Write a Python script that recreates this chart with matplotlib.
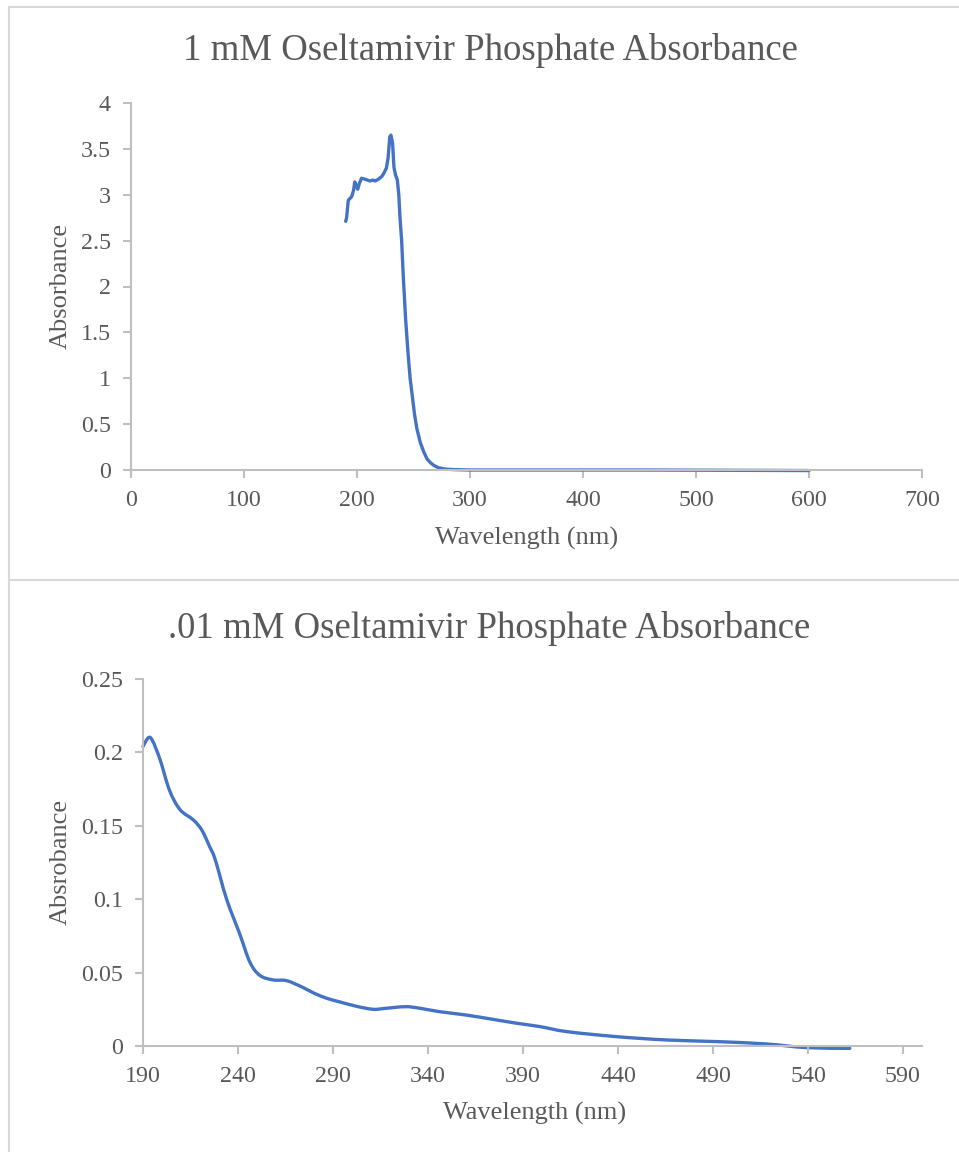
import matplotlib
matplotlib.use("Agg")
import matplotlib.pyplot as plt
import numpy as np
from matplotlib.lines import Line2D
from matplotlib.path import Path
from matplotlib.patches import PathPatch

# ---- data: 1 mM ----
wl_1mM = [190, 190.8, 192.3, 195.3, 197, 198, 199.5, 200.6, 202, 204, 207, 211.5, 214, 216, 219,
          222, 224, 226, 227.5, 229, 230, 231.5, 232.7, 234, 235.7, 237, 238, 239.5, 241, 243,
          245, 247, 249, 251, 253, 256, 259, 262, 265, 268, 272, 278, 285, 300, 350, 400, 450,
          500, 550, 600]
abs_1mM = [2.71, 2.75, 2.94, 2.98, 3.05, 3.14, 3.10, 3.06, 3.12, 3.18, 3.17, 3.15, 3.16, 3.15, 3.17,
           3.20, 3.24, 3.29, 3.40, 3.63, 3.65, 3.56, 3.30, 3.22, 3.16, 3.0, 2.76, 2.50, 2.1, 1.65,
           1.3, 1.0, 0.8, 0.6, 0.45, 0.30, 0.20, 0.12, 0.08, 0.05, 0.025, 0.01, 0.005, 0.0, 0.0,
           0.0, 0.0, -0.002, -0.004, -0.006]

# ---- data: 0.01 mM ----
wl_001 = [190, 192.8, 195, 199, 204, 209.5, 216.5, 221, 225, 228, 234, 241, 246.3, 251.6, 258.6,
          265.6, 274, 280, 286.7, 293.7, 302.5, 311, 316.5, 322, 328.8, 335.8, 346, 360, 374,
          386.7, 399, 413, 439, 465.6, 492, 518, 539, 562]
abs_001 = [0.204, 0.210, 0.208, 0.195, 0.174, 0.161, 0.154, 0.147, 0.136, 0.127, 0.100, 0.076,
           0.057, 0.048, 0.045, 0.0445, 0.040, 0.036, 0.0325, 0.030, 0.027, 0.025, 0.0255, 0.0262,
           0.0268, 0.0257, 0.0234, 0.0211, 0.0182, 0.0155, 0.0132, 0.0098, 0.0064, 0.0041, 0.003,
           0.0014, -0.0011, -0.0016]

title_top = "1 mM Oseltamivir Phosphate Absorbance"
title_bot = ".01 mM Oseltamivir Phosphate Absorbance"
xlabel = "Wavelength (nm)"
ylabel_top = "Absorbance"
ylabel_bot = "Absrobance"
xticks_top = [0, 100, 200, 300, 400, 500, 600, 700]
yticks_top = [0, 0.5, 1, 1.5, 2, 2.5, 3, 3.5, 4]
ytick_labels_top = ["0", "0.5", "1", "1.5", "2", "2.5", "3", "3.5", "4"]
xticks_bot = [190, 240, 290, 340, 390, 440, 490, 540, 590]
yticks_bot = [0, 0.05, 0.1, 0.15, 0.2, 0.25]
ytick_labels_bot = ["0", "0.05", "0.1", "0.15", "0.2", "0.25"]

W, H = 959, 1152
plt.rcParams['font.family'] = ['Liberation Serif', 'DejaVu Serif']
TXT = '#595959'
AX = '#BFBFBF'
BLUE = '#4472C4'
TICK_FS = 17.3
LAB_FS = 19
TITLE_FS = 26.5

fig = plt.figure(figsize=(W / 100, H / 100), dpi=100)

def ax_rect(l, t, r, b):
    return [l / W, 1 - b / H, (r - l) / W, (b - t) / H]

def style(ax):
    for s in ['top', 'right']:
        ax.spines[s].set_visible(False)
    for s in ['left', 'bottom']:
        ax.spines[s].set_color(AX)
        ax.spines[s].set_linewidth(1.5)
    ax.tick_params(colors=AX, labelcolor=TXT, labelsize=TICK_FS, length=6, width=1.5)
    ax.tick_params(axis='y', pad=8.5)
    ax.tick_params(axis='x', pad=8.5)

def smooth_line(ax, xs, ys, tension=1/6):
    # Excel-like smoothed line: cubic Bezier through the data points
    xs = np.asarray(xs, float)
    ys = np.asarray(ys, float)
    n = len(xs)
    verts = [(xs[0], ys[0])]
    codes = [Path.MOVETO]
    for i in range(n - 1):
        p0 = np.array([xs[max(i - 1, 0)], ys[max(i - 1, 0)]])
        p1 = np.array([xs[i], ys[i]])
        p2 = np.array([xs[i + 1], ys[i + 1]])
        p3 = np.array([xs[min(i + 2, n - 1)], ys[min(i + 2, n - 1)]])
        c1 = p1 + (p2 - p0) * tension
        c2 = p2 - (p3 - p1) * tension
        verts += [tuple(c1), tuple(c2), tuple(p2)]
        codes += [Path.CURVE4] * 3
    patch = PathPatch(Path(verts, codes), facecolor='none', edgecolor=BLUE, lw=2.4,
                      capstyle='round', joinstyle='round', clip_on=False)
    ax.add_patch(patch)

# top
ax1 = fig.add_axes(ax_rect(131, 103, 922, 470))
ax1.plot(wl_1mM, abs_1mM, color=BLUE, lw=2.4, solid_capstyle='round',
         solid_joinstyle='round', clip_on=False)
ax1.set_xlim(0, 700)
ax1.set_ylim(0, 4)
ax1.set_xticks(xticks_top)
ax1.set_yticks(yticks_top)
ax1.set_yticklabels(ytick_labels_top)
style(ax1)

# bottom
ax2 = fig.add_axes(ax_rect(143, 679, 922, 1046))
smooth_line(ax2, wl_001, abs_001)
ax2.set_xlim(190, 600)
ax2.set_ylim(0, 0.25)
ax2.set_xticks(xticks_bot)
ax2.set_yticks(yticks_bot)
ax2.set_yticklabels(ytick_labels_bot)
style(ax2)

def fx(x):
    return x / W

def fy(y):
    return 1 - y / H

fig.text(fx(490), fy(51), title_top, ha='center', va='center', fontsize=TITLE_FS, color=TXT)
fig.text(fx(489), fy(628), title_bot, ha='center', va='center', fontsize=TITLE_FS, color=TXT)
fig.text(fx(527), fy(538), xlabel, ha='center', va='center', fontsize=LAB_FS, color=TXT)
fig.text(fx(535), fy(1113), xlabel, ha='center', va='center', fontsize=LAB_FS, color=TXT)
fig.text(fx(61), fy(286), ylabel_top, ha='center', va='center', rotation=90, fontsize=LAB_FS, color=TXT)
fig.text(fx(61), fy(862), ylabel_bot, ha='center', va='center', rotation=90, fontsize=LAB_FS, color=TXT)

# chart frames
BORD = '#D9D9D9'
fig.add_artist(Line2D([fx(9), fx(9)], [fy(7), fy(1152)], color=BORD, lw=1.5))
fig.add_artist(Line2D([fx(9), fx(959)], [fy(7), fy(7)], color=BORD, lw=1.5))
fig.add_artist(Line2D([fx(9), fx(959)], [fy(580), fy(580)], color=BORD, lw=1.5))

fig.savefig('out.png', dpi=100)
